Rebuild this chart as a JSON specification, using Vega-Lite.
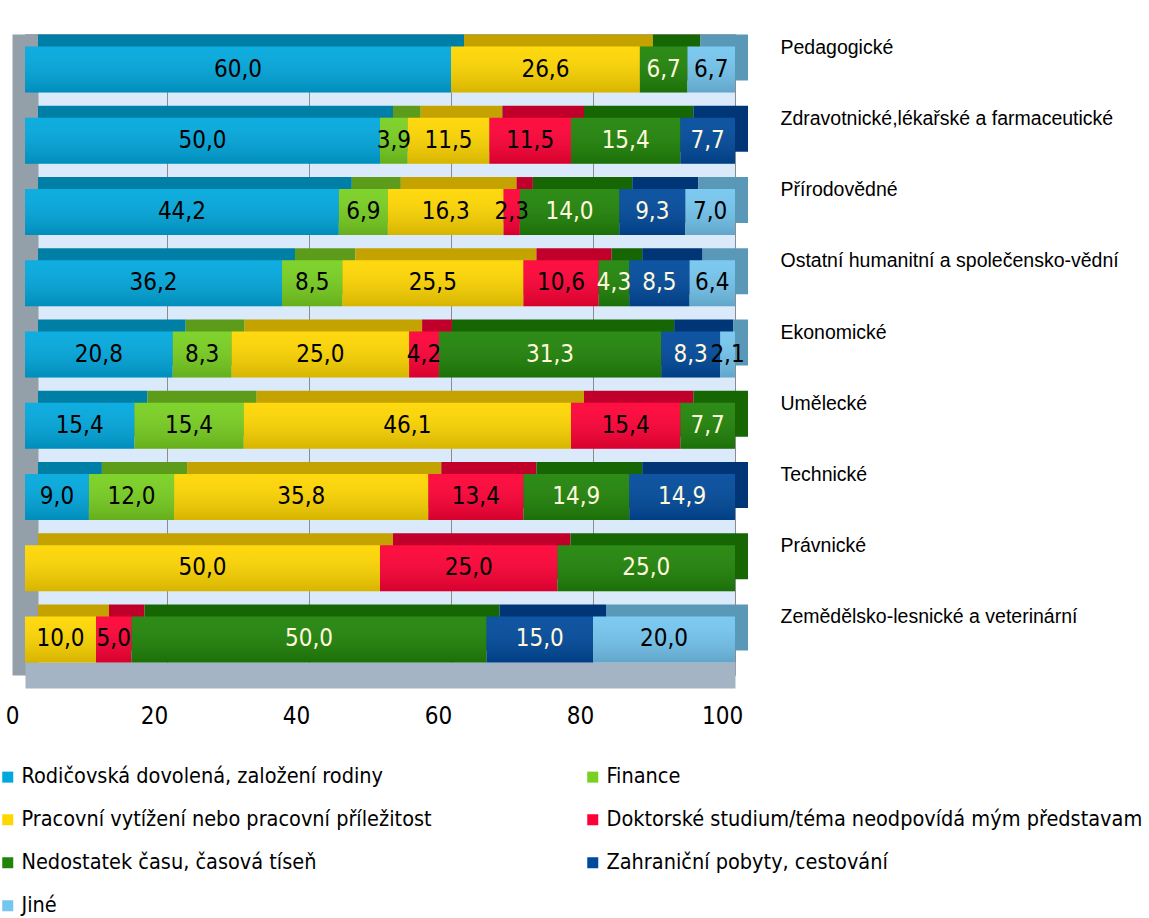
{
  "$schema": "https://vega.github.io/schema/vega-lite/v6.json",
  "width": 710,
  "height": 641,
  "autosize": {"type": "none"},
  "padding": {"left": 25, "top": 34, "right": 414, "bottom": 243},
  "background": "white",
  "view": {"fill": "#dbeafb", "stroke": "#a6a6a6", "strokeWidth": 1},
  "data": {"values": [
    {"c": "Pedagogické", "r": "Rodičovská dovolená, založení rodiny", "k": 1, "v": 60.0},
    {"c": "Pedagogické", "r": "Pracovní vytížení nebo pracovní příležitost", "k": 3, "v": 26.6},
    {"c": "Pedagogické", "r": "Nedostatek času, časová tíseň", "k": 5, "v": 6.7},
    {"c": "Pedagogické", "r": "Jiné", "k": 7, "v": 6.7},
    {"c": "Zdravotnické,lékařské a farmaceutické", "r": "Rodičovská dovolená, založení rodiny", "k": 1, "v": 50.0},
    {"c": "Zdravotnické,lékařské a farmaceutické", "r": "Finance", "k": 2, "v": 3.9},
    {"c": "Zdravotnické,lékařské a farmaceutické", "r": "Pracovní vytížení nebo pracovní příležitost", "k": 3, "v": 11.5},
    {"c": "Zdravotnické,lékařské a farmaceutické", "r": "Doktorské studium/téma neodpovídá mým představam", "k": 4, "v": 11.5},
    {"c": "Zdravotnické,lékařské a farmaceutické", "r": "Nedostatek času, časová tíseň", "k": 5, "v": 15.4},
    {"c": "Zdravotnické,lékařské a farmaceutické", "r": "Zahraniční pobyty, cestování", "k": 6, "v": 7.7},
    {"c": "Přírodovědné", "r": "Rodičovská dovolená, založení rodiny", "k": 1, "v": 44.2},
    {"c": "Přírodovědné", "r": "Finance", "k": 2, "v": 6.9},
    {"c": "Přírodovědné", "r": "Pracovní vytížení nebo pracovní příležitost", "k": 3, "v": 16.3},
    {"c": "Přírodovědné", "r": "Doktorské studium/téma neodpovídá mým představam", "k": 4, "v": 2.3},
    {"c": "Přírodovědné", "r": "Nedostatek času, časová tíseň", "k": 5, "v": 14.0},
    {"c": "Přírodovědné", "r": "Zahraniční pobyty, cestování", "k": 6, "v": 9.3},
    {"c": "Přírodovědné", "r": "Jiné", "k": 7, "v": 7.0},
    {"c": "Ostatní humanitní a společensko-vědní", "r": "Rodičovská dovolená, založení rodiny", "k": 1, "v": 36.2},
    {"c": "Ostatní humanitní a společensko-vědní", "r": "Finance", "k": 2, "v": 8.5},
    {"c": "Ostatní humanitní a společensko-vědní", "r": "Pracovní vytížení nebo pracovní příležitost", "k": 3, "v": 25.5},
    {"c": "Ostatní humanitní a společensko-vědní", "r": "Doktorské studium/téma neodpovídá mým představam", "k": 4, "v": 10.6},
    {"c": "Ostatní humanitní a společensko-vědní", "r": "Nedostatek času, časová tíseň", "k": 5, "v": 4.3},
    {"c": "Ostatní humanitní a společensko-vědní", "r": "Zahraniční pobyty, cestování", "k": 6, "v": 8.5},
    {"c": "Ostatní humanitní a společensko-vědní", "r": "Jiné", "k": 7, "v": 6.4},
    {"c": "Ekonomické", "r": "Rodičovská dovolená, založení rodiny", "k": 1, "v": 20.8},
    {"c": "Ekonomické", "r": "Finance", "k": 2, "v": 8.3},
    {"c": "Ekonomické", "r": "Pracovní vytížení nebo pracovní příležitost", "k": 3, "v": 25.0},
    {"c": "Ekonomické", "r": "Doktorské studium/téma neodpovídá mým představam", "k": 4, "v": 4.2},
    {"c": "Ekonomické", "r": "Nedostatek času, časová tíseň", "k": 5, "v": 31.3},
    {"c": "Ekonomické", "r": "Zahraniční pobyty, cestování", "k": 6, "v": 8.3},
    {"c": "Ekonomické", "r": "Jiné", "k": 7, "v": 2.1},
    {"c": "Umělecké", "r": "Rodičovská dovolená, založení rodiny", "k": 1, "v": 15.4},
    {"c": "Umělecké", "r": "Finance", "k": 2, "v": 15.4},
    {"c": "Umělecké", "r": "Pracovní vytížení nebo pracovní příležitost", "k": 3, "v": 46.1},
    {"c": "Umělecké", "r": "Doktorské studium/téma neodpovídá mým představam", "k": 4, "v": 15.4},
    {"c": "Umělecké", "r": "Nedostatek času, časová tíseň", "k": 5, "v": 7.7},
    {"c": "Technické", "r": "Rodičovská dovolená, založení rodiny", "k": 1, "v": 9.0},
    {"c": "Technické", "r": "Finance", "k": 2, "v": 12.0},
    {"c": "Technické", "r": "Pracovní vytížení nebo pracovní příležitost", "k": 3, "v": 35.8},
    {"c": "Technické", "r": "Doktorské studium/téma neodpovídá mým představam", "k": 4, "v": 13.4},
    {"c": "Technické", "r": "Nedostatek času, časová tíseň", "k": 5, "v": 14.9},
    {"c": "Technické", "r": "Zahraniční pobyty, cestování", "k": 6, "v": 14.9},
    {"c": "Právnické", "r": "Pracovní vytížení nebo pracovní příležitost", "k": 3, "v": 50.0},
    {"c": "Právnické", "r": "Doktorské studium/téma neodpovídá mým představam", "k": 4, "v": 25.0},
    {"c": "Právnické", "r": "Nedostatek času, časová tíseň", "k": 5, "v": 25.0},
    {"c": "Zemědělsko-lesnické a veterinární", "r": "Pracovní vytížení nebo pracovní příležitost", "k": 3, "v": 10.0},
    {"c": "Zemědělsko-lesnické a veterinární", "r": "Doktorské studium/téma neodpovídá mým představam", "k": 4, "v": 5.0},
    {"c": "Zemědělsko-lesnické a veterinární", "r": "Nedostatek času, časová tíseň", "k": 5, "v": 50.0},
    {"c": "Zemědělsko-lesnické a veterinární", "r": "Zahraniční pobyty, cestování", "k": 6, "v": 15.0},
    {"c": "Zemědělsko-lesnické a veterinární", "r": "Jiné", "k": 7, "v": 20.0}
  ]},
  "transform": [
    {"stack": "v", "groupby": ["c"], "sort": [{"field": "k", "order": "ascending"}], "as": ["v0", "v1"]},
    {"calculate": "(datum.v0 + datum.v1) / 2", "as": "m"},
    {"calculate": "replace(format(datum.v, '.1f'), '.', ',')", "as": "lab"}
  ],
  "encoding": {
    "y": {
      "field": "c", "type": "nominal",
      "sort": ["Pedagogické", "Zdravotnické,lékařské a farmaceutické", "Přírodovědné", "Ostatní humanitní a společensko-vědní", "Ekonomické", "Umělecké", "Technické", "Právnické", "Zemědělsko-lesnické a veterinární"],
      "scale": {"paddingInner": 0.354, "paddingOuter": 0.177},
      "axis": {"orient": "right", "title": null, "domain": false, "ticks": false, "grid": false, "labelFont": "Liberation Sans, Arial, sans-serif", "labelFontSize": 19.5, "labelColor": "black", "labelPadding": 45, "labelOffset": -22, "labelLimit": 400, "labelAlign": "left"}
    }
  },
  "resolve": {"scale": {"color": "independent"}, "legend": {"color": "independent"}},
  "layer": [
    {
      "mark": {"type": "bar", "xOffset": 13, "x2Offset": 13, "yOffset": -12, "y2Offset": -12},
      "encoding": {
        "x": {"field": "v0", "type": "quantitative", "scale": {"domain": [0, 100], "nice": false},
          "axis": {"values": [0, 20, 40, 60, 80, 100], "title": null, "labelFont": "Liberation Sans Narrow, Arial Narrow, DejaVu Sans Condensed, sans-serif", "labelFontSize": 24, "labelColor": "black", "labelPadding": 29, "labelOffset": -13, "ticks": false, "labelFlush": false,
            "domainColor": "#a4b4c4", "domainWidth": 26,
            "gridColor": {"condition": {"test": "datum.value === 0", "value": "#939fa9"}, "value": "#8c8c8c"},
            "gridWidth": {"condition": {"test": "datum.value === 0", "value": 26}, "value": 1}}},
        "x2": {"field": "v1"},
        "color": {"field": "r", "type": "nominal", "legend": null,
          "scale": {"domain": ["Rodičovská dovolená, založení rodiny", "Finance", "Pracovní vytížení nebo pracovní příležitost", "Doktorské studium/téma neodpovídá mým představam", "Nedostatek času, časová tíseň", "Zahraniční pobyty, cestování", "Jiné"],
            "range": ["#007fa6", "#5c9c1a", "#c4a200", "#c0002a", "#176604", "#003676", "#5a98b8"]}}
      }
    },
    {
      "mark": {"type": "bar"},
      "encoding": {
        "x": {"field": "v0", "type": "quantitative"},
        "x2": {"field": "v1"},
        "color": {"field": "r", "type": "nominal",
          "scale": {"domain": ["Rodičovská dovolená, založení rodiny", "Finance", "Pracovní vytížení nebo pracovní příležitost", "Doktorské studium/téma neodpovídá mým představam", "Nedostatek času, časová tíseň", "Zahraniční pobyty, cestování", "Jiné"],
            "range": ["#00a8de", "#78d020", "#ffd700", "#ff0036", "#208408", "#004a9c", "#74c6f0"]},
          "legend": {"orient": "none", "legendX": -28, "legendY": 732, "direction": "horizontal", "columns": 2, "title": null, "symbolType": "square", "symbolSize": 121, "symbolStrokeWidth": 0, "labelFont": "Liberation Sans Narrow, Arial Narrow, DejaVu Sans Condensed, sans-serif", "labelFontSize": 21.5, "labelColor": "black", "labelLimit": 700, "rowPadding": 20, "columnPadding": 150, "labelOffset": 3}}
      }
    },
    {
      "mark": {"type": "bar", "color": {"gradient": "linear", "x1": 0, "y1": 0, "x2": 0, "y2": 1, "stops": [{"offset": 0, "color": "rgba(255,255,255,0.06)"}, {"offset": 1, "color": "rgba(0,0,0,0.16)"}]}},
      "encoding": {
        "x": {"field": "v0", "type": "quantitative"},
        "x2": {"field": "v1"}
      }
    },
    {
      "mark": {"type": "text", "font": "Liberation Sans Narrow, Arial Narrow, DejaVu Sans Condensed, sans-serif", "fontSize": 24, "align": "center", "baseline": "middle"},
      "encoding": {
        "x": {"field": "m", "type": "quantitative"},
        "text": {"field": "lab"},
        "color": {"condition": {"test": "datum.r === 'Nedostatek času, časová tíseň' || datum.r === 'Zahraniční pobyty, cestování'", "value": "#fff8dc"}, "value": "black"}
      }
    }
  ]
}
